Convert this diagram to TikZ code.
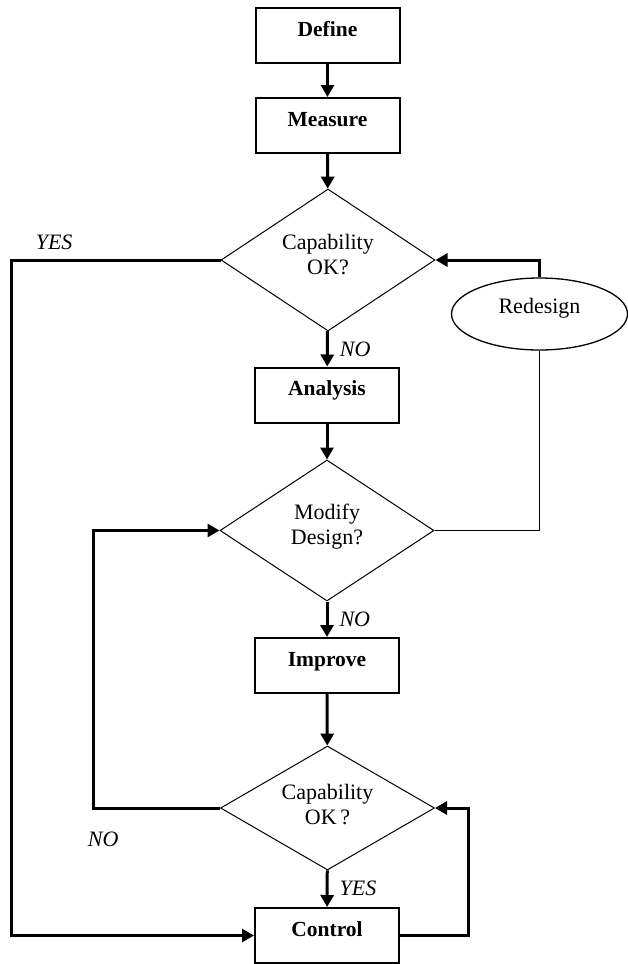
\documentclass[tikz,border=0pt]{standalone}
\usepackage{fontspec}
\setmainfont{Liberation Serif}
\usetikzlibrary{shapes.geometric,arrows.meta}
\newcommand{\twolines}[3]{\raisebox{#3}[\height][\depth]{\begin{tabular}{@{}c@{}}#1\\#2\end{tabular}}}
\begin{document}
\begin{tikzpicture}[x=1pt,y=-1pt,
    stage/.style={draw,line width=2pt,minimum width=144pt,inner xsep=0pt,inner ysep=0pt,
      text height=28pt,text depth=27pt,font=\fontsize{21.5}{25}\selectfont\bfseries},
    query/.style={draw,diamond,aspect=1.5,line width=1pt,inner sep=0pt,minimum width=214pt,
      font=\fontsize{22}{25}\selectfont},
    flow/.style={line width=3pt,-{Triangle[length=12pt,width=13pt]}},
    answer/.style={font=\fontsize{22}{25}\selectfont\itshape,inner sep=0pt}]
      \useasboundingbox (0,0) rectangle (628,964);
      \node[stage] (define) at (327.5,35.5) {Define};
      \node[stage] (measure) at (327.5,125.5) {Measure};
      \node[query,minimum height=142pt] (d1) at (328,260) {\twolines{Capability}{OK?}{3.5pt}};
      \node[stage] (analysis) at (327,395) {Analysis};
      \node[query,minimum height=141pt] (d2) at (327,530.5) {\twolines{Modify}{Design?}{4pt}};
      \node[stage] (improve) at (327,665.5) {Improve};
      \node[query,minimum height=124pt] (d3) at (327.5,808) {\twolines{Capability}{OK\,?}{1pt}};
      \node[stage] (control) at (327,935.5) {Control};
      \node[draw,ellipse,line width=1.3pt,minimum width=176pt,minimum height=72pt,inner sep=0pt,
        text height=15pt,text depth=17pt,font=\fontsize{22}{25}\selectfont] (redesign) at (539.5,314) {Redesign};
      \coordinate (outer) at (11,0);
      \coordinate (inner) at (93,0);
      \coordinate (loop) at (468,0);
      \draw[flow] (define) -- (measure);
      \draw[flow] (measure) -- (d1);
      \draw[flow] (d1) -- node[answer,right=11pt] (no1) {NO} (analysis);
      \draw[flow] (analysis) -- (d2);
      \draw[flow] (d2) -- node[answer,right=11pt] (no2) {NO} (improve);
      \draw[flow] (improve) -- (d3);
      \draw[flow] (d3) -- node[answer,right=11pt] (yes2) {YES} (control);
      \draw[flow] (d1.west) -- node[answer,pos=0.794,above=9pt] (yes1) {YES} (d1.west -| outer) |- (control.west);
      \draw[flow] (d3.west) -- node[answer,pos=0.92,below=22pt] (no3) {NO} (d3.west -| inner) |- (d2.west);
      \draw[flow] (control.east) -- (control.east -| loop) |- (d3.east);
      \draw[flow] (redesign.north) |- (d1.east);
      \draw[line width=1.5pt] (redesign.south) |- (d2.east);
    \end{tikzpicture}
\end{document}
